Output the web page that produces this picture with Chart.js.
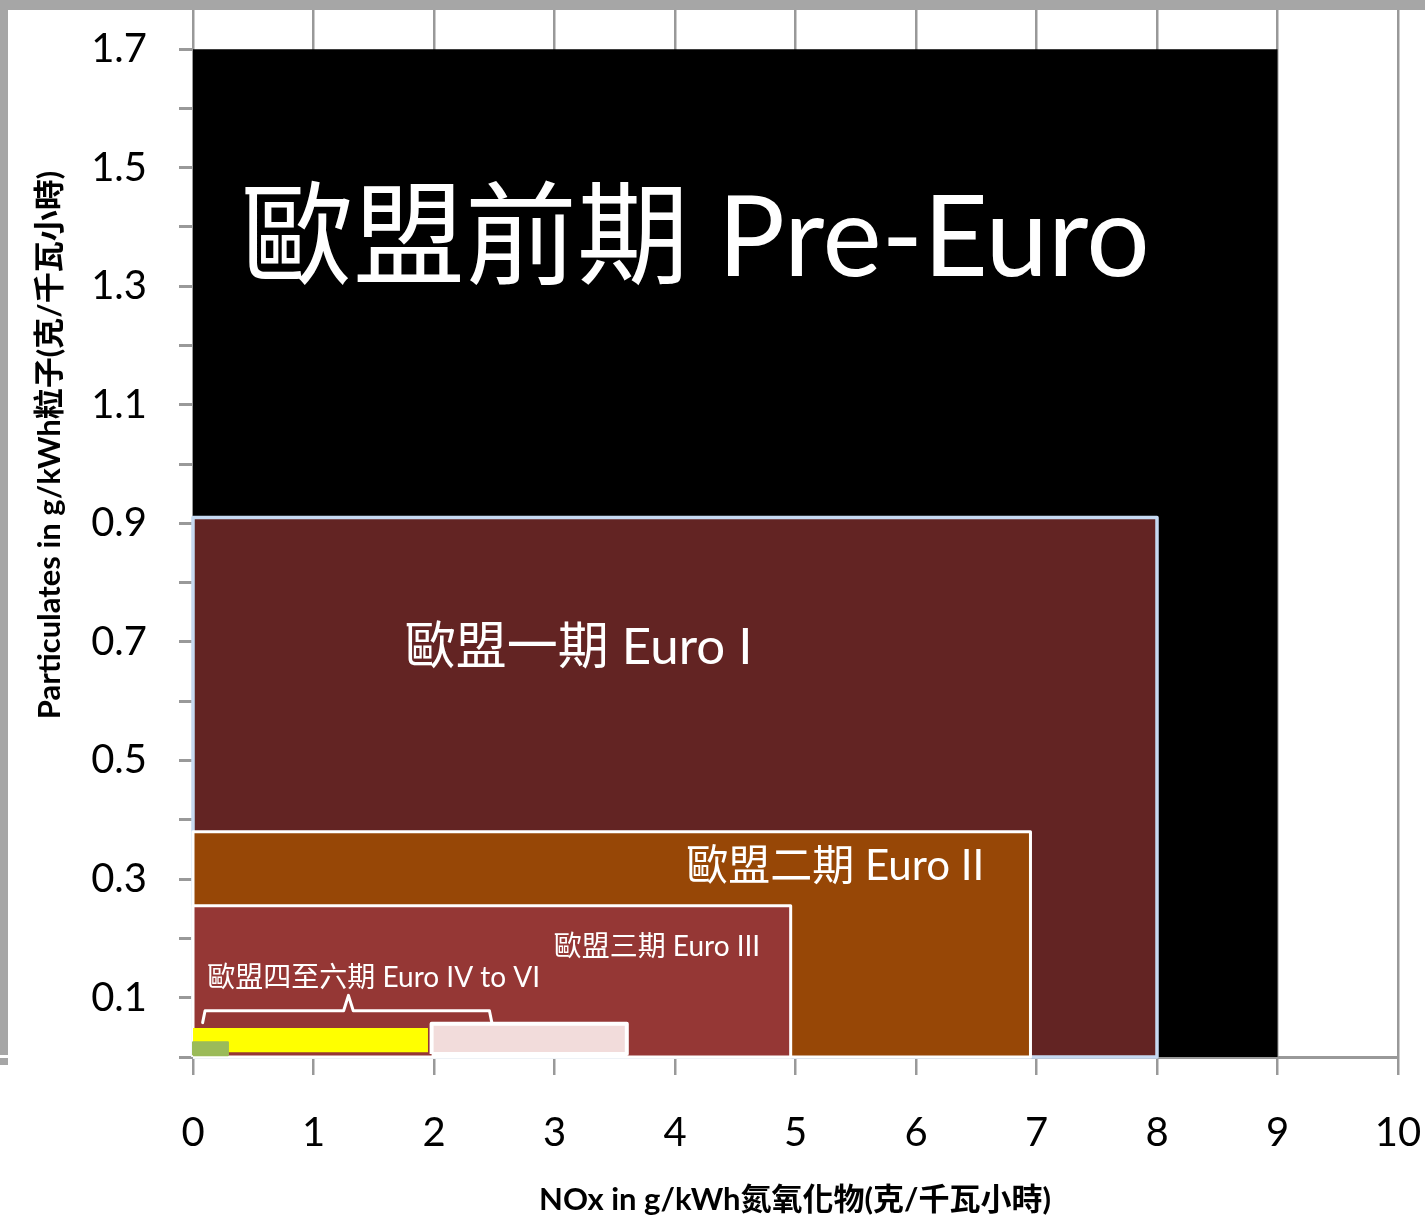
<!DOCTYPE html>
<html>
<head>
  <meta charset="utf-8">
  <title>Euro emission standards</title>
  <script src="https://cdn.jsdelivr.net/npm/chart.js"></script>
  <style>
    body {
      margin: 0;
      background: #fff;
    }
    .chart-box {
      position: relative;
      width: 1425px;
      height: 1218px;
    }
  </style>
</head>
<body>
  <div class="chart-box">
    <canvas id="euroChart"></canvas>
  </div>

  <script>
    // emission zones, outermost first
    const zoneNames = ['歐盟前期 Pre-Euro', '歐盟一期 Euro I', '歐盟二期 Euro II', '歐盟三期 Euro III', 'Euro IV', 'Euro V', 'Euro VI'];
    const noxMin = [-0.03, 0, 0, 0, 1.98, 0, 0];
    const noxMax = [9, 8, 6.95, 4.96, 3.6, 1.95, 0.29];
    const pmMin = [0, 0, 0, 0, 0.005, 0.008, 0.003];
    const pmMax = [1.7, 0.91, 0.38, 0.255, 0.056, 0.049, 0.025];

    // brace grouping Euro IV to VI
    const groupName = '歐盟四至六期 Euro IV to VI';
    const braceX = [0.08, 0.1, 1.25, 1.29, 1.33, 2.46, 2.48];
    const braceY = [0.058, 0.078, 0.078, 0.104, 0.078, 0.078, 0.058];

    const xTicks = [0, 1, 2, 3, 4, 5, 6, 7, 8, 9, 10];
    const yTicks = [0, 0.1, 0.2, 0.3, 0.4, 0.5, 0.6, 0.7, 0.8, 0.9, 1.0, 1.1, 1.2, 1.3, 1.4, 1.5, 1.6, 1.7];
    const xTitle = 'NOx in g/kWh氮氧化物(克/千瓦小時)';
    const yTitle = 'Particulates in g/kWh粒子(克/千瓦小時)';

    const zoneFill = ['#000000', '#632423', '#974706', '#953735', '#f2dcdb', '#ffff00', '#9bbb59'];
    const zoneBorder = ['#000000', '#c6d9f1', '#ffffff', '#ffffff', '#ffffff', '#ffff00', '#9bbb59'];
    const zoneBorderWidth = [0, 3.5, 3, 3, 4, 0, 2];

    // where the zone captions sit (data coords) and how big
    const captionLayout = [
      { text: zoneNames[0], x: 4.17, y: 1.378, size: 112 },
      { text: zoneNames[1], x: 3.2, y: 0.69, size: 51 },
      { text: zoneNames[2], x: 5.33, y: 0.322, size: 42 },
      { text: zoneNames[3], x: 3.85, y: 0.185, size: 28 },
      { text: groupName, x: 1.5, y: 0.133, size: 28 }
    ];

    const FONT = 'Lato, "Noto Sans CJK TC", sans-serif';

    const datasets = zoneNames.map((name, i) => ({
      label: name,
      data: [
        { x: noxMin[i], y: pmMin[i] },
        { x: noxMin[i], y: pmMax[i] },
        { x: noxMax[i], y: pmMax[i] },
        { x: noxMax[i], y: pmMin[i] },
        { x: noxMin[i], y: pmMin[i] }
      ],
      showLine: true,
      fill: 'shape',
      backgroundColor: zoneFill[i],
      borderColor: zoneBorder[i],
      borderWidth: zoneBorderWidth[i],
      borderJoinStyle: 'round',
      pointRadius: 0,
      pointHoverRadius: 0,
      clip: false,
      order: zoneNames.length - i + 1
    }));

    datasets.push({
      label: groupName,
      data: braceX.map((x, i) => ({ x: x, y: braceY[i] })),
      showLine: true,
      fill: false,
      borderColor: '#ffffff',
      borderWidth: 3,
      borderJoinStyle: 'round',
      borderCapStyle: 'round',
      pointRadius: 0,
      pointHoverRadius: 0,
      clip: false,
      order: 0
    });

    const framePlugin = {
      id: 'frame',
      beforeDraw(chart) {
        const ctx = chart.ctx;
        ctx.save();
        ctx.fillStyle = '#ffffff';
        ctx.fillRect(0, 0, chart.width, chart.height);
        ctx.fillStyle = '#a6a6a6';
        ctx.fillRect(0, 0, chart.width, 10);
        ctx.fillRect(0, 0, 8, 1055);
        ctx.fillRect(0, 1058, 8, 7);
        ctx.restore();
      }
    };

    const captionPlugin = {
      id: 'captions',
      afterDatasetsDraw(chart) {
        const ctx = chart.ctx;
        const xs = chart.scales.x, ys = chart.scales.y;
        ctx.save();
        ctx.fillStyle = '#ffffff';
        ctx.textAlign = 'center';
        ctx.textBaseline = 'middle';
        captionLayout.forEach(c => {
          ctx.font = c.size + 'px ' + FONT;
          ctx.fillText(c.text, xs.getPixelForValue(c.x), ys.getPixelForValue(c.y));
        });

        // axis titles
        ctx.fillStyle = '#000000';
        ctx.font = 'bold 31px ' + FONT;
        ctx.fillText(xTitle, 795, 1200, 512);
        ctx.translate(50, 445);
        ctx.rotate(-Math.PI / 2);
        ctx.font = 'bold 31px ' + FONT;
        ctx.fillText(yTitle, 0, 0, 554);
        ctx.restore();
      }
    };

    new Chart(document.getElementById('euroChart'), {
      type: 'scatter',
      data: { datasets: datasets },
      options: {
        responsive: true,
        maintainAspectRatio: false,
        animation: false,
        events: [],
        layout: { padding: { top: 10, right: 27, left: 0, bottom: 0 } },
        plugins: {
          legend: { display: false },
          tooltip: { enabled: false }
        },
        scales: {
          x: {
            type: 'linear',
            min: xTicks[0],
            max: xTicks[xTicks.length - 1],
            afterBuildTicks: s => { s.ticks = xTicks.map(v => ({ value: v })); },
            afterFit: s => {
              s.height = 161;
              s.paddingLeft = 0;
              s.paddingRight = 0;
            },
            ticks: {
              color: '#000',
              font: { family: FONT, size: 40 },
              padding: 34,
              maxRotation: 0
            },
            grid: {
              color: '#999999',
              lineWidth: 2.5,
              tickLength: 18
            },
            border: { display: true, color: '#999999', width: 3 }
          },
          y: {
            type: 'linear',
            min: 0,
            max: 1.766,
            afterBuildTicks: s => { s.ticks = yTicks.map(v => ({ value: v })); },
            afterFit: s => {
              s.width = 193;
              s.paddingTop = 0;
              s.paddingBottom = 0;
            },
            ticks: {
              color: '#000',
              font: { family: FONT, size: 40 },
              padding: 32,
              callback: (v, i) => (i % 2 === 1 ? Number(v).toFixed(1) : '')
            },
            grid: {
              drawOnChartArea: false,
              color: '#999999',
              lineWidth: 3,
              tickLength: 14
            },
            border: { display: false }
          }
        }
      },
      plugins: [framePlugin, captionPlugin]
    });
  </script>
</body>
</html>
